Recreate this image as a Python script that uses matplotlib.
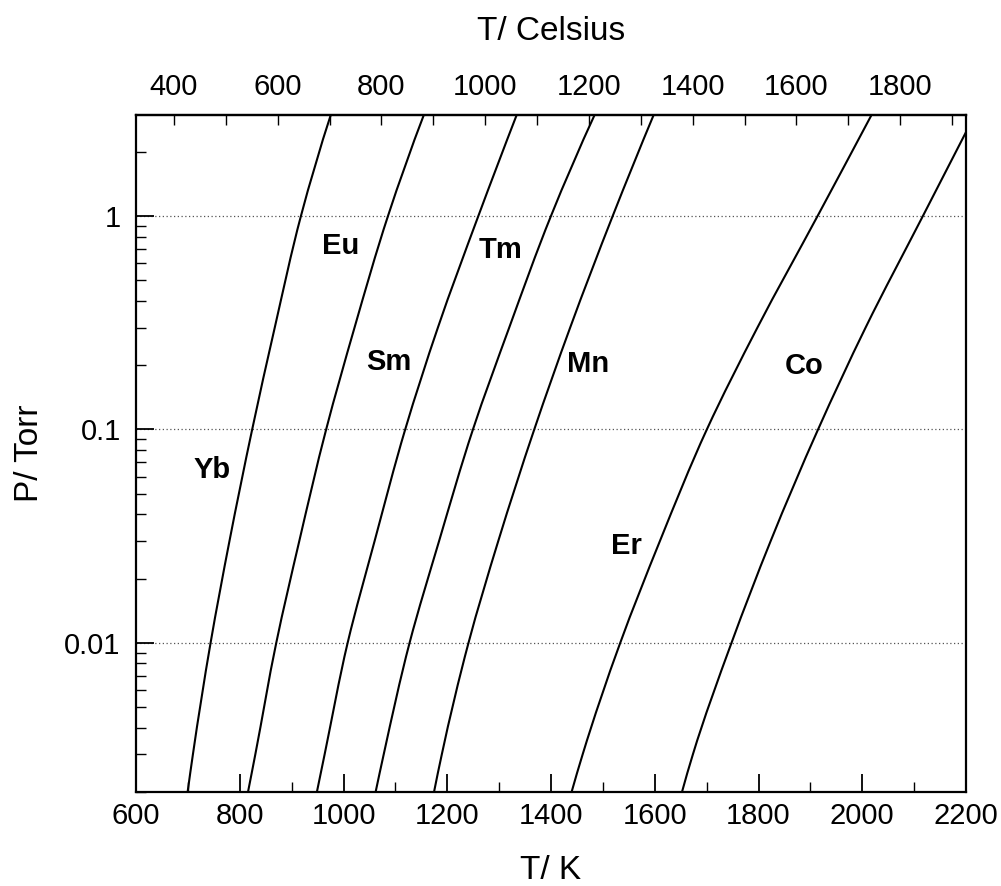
import matplotlib
matplotlib.use("Agg")
import matplotlib.pyplot as plt
from matplotlib.ticker import MultipleLocator, FixedLocator, FixedFormatter, NullFormatter, LogLocator
from matplotlib.path import Path
from matplotlib.patches import PathPatch
import numpy as np

plt.rcParams['font.family'] = ['Liberation Sans', 'DejaVu Sans']

# Pressure levels (Torr) at which temperatures were read
pressures = [0.002, 0.003, 0.01, 0.03, 0.1, 0.3, 1.0, 3.0]

# Temperatures (K) of each element at those pressures
T_Yb = [699.5, 709.7, 743.8, 780.2, 824.0, 867.5, 918.0, 976.0]
T_Eu = [815.9, 830.0, 870.4, 914.8, 966.6, 1021.3, 1085.8, 1155.5]
T_Sm = [948.7, 963.6, 1008.0, 1060.0, 1119.0, 1182.0, 1260.0, 1334.5]
T_Tm = [1061.9, 1077.5, 1127.4, 1184.3, 1249.6, 1319.5, 1400.0, 1484.8]
T_Mn = [1174.5, 1189.5, 1241.0, 1298.4, 1367.8, 1437.0, 1519.0, 1598.6]
T_Er = [1439.7, 1461.0, 1533.5, 1610.0, 1700.5, 1798.0, 1914.0, 2018.8]
# Co leaves the frame at the right edge
P_Co = [0.002, 0.003, 0.01, 0.03, 0.1, 0.3, 1.0, 2.47]
T_Co = [1652.5, 1673.5, 1748.0, 1823.5, 1914.9, 2006.5, 2117.0, 2200.0]

elements = ['Yb', 'Eu', 'Sm', 'Tm', 'Mn', 'Er', 'Co']
series = {
    'Yb': (T_Yb, pressures), 'Eu': (T_Eu, pressures), 'Sm': (T_Sm, pressures),
    'Tm': (T_Tm, pressures), 'Mn': (T_Mn, pressures), 'Er': (T_Er, pressures),
    'Co': (T_Co, P_Co),
}

xticks_K = [600, 800, 1000, 1200, 1400, 1600, 1800, 2000, 2200]
xticks_C = [400, 600, 800, 1000, 1200, 1400, 1600, 1800]
yticks = [0.01, 0.1, 1]
ytick_labels = ['0.01', '0.1', '1']

# label anchor positions (T in K, P in Torr)
label_pos = {
    'Yb': (746.5, 0.0646), 'Eu': (995.2, 0.7236), 'Sm': (1087.7, 0.207),
    'Tm': (1303.6, 0.693), 'Mn': (1471.3, 0.2026), 'Er': (1544.6, 0.02846),
    'Co': (1887.7, 0.198),
}


def smooth_curve(T, P):
    """Smooth line through the data points (cubic Bezier segments, drawn by matplotlib)."""
    T = np.asarray(T, float)
    y = np.log10(np.asarray(P, float))
    h = np.diff(y)
    d = np.diff(T) / h
    n = len(T)
    m = np.empty(n)
    m[0] = ((2 * h[0] + h[1]) * d[0] - h[0] * d[1]) / (h[0] + h[1])
    m[-1] = ((2 * h[-1] + h[-2]) * d[-1] - h[-1] * d[-2]) / (h[-1] + h[-2])
    for i in range(1, n - 1):
        m[i] = (h[i] * d[i - 1] + h[i - 1] * d[i]) / (h[i - 1] + h[i])
    verts = [(T[0], 10 ** y[0])]
    codes = [Path.MOVETO]
    for i in range(n - 1):
        verts.append((T[i] + m[i] * h[i] / 3, 10 ** (y[i] + h[i] / 3)))
        verts.append((T[i + 1] - m[i + 1] * h[i] / 3, 10 ** (y[i + 1] - h[i] / 3)))
        verts.append((T[i + 1], 10 ** y[i + 1]))
        codes += [Path.CURVE4] * 3
    return Path(verts, codes)


fig = plt.figure(figsize=(10.01, 8.86), dpi=100)
ax = fig.add_axes([136/1001, 1-792/886, (966-136)/1001, (792-115)/886])

ax.set_yscale('log')
ax.set_xlim(600, 2200)
ax.set_ylim(0.002, 2.97)

for el in elements:
    T, P = series[el]
    patch = PathPatch(smooth_curve(T, P), facecolor='none', edgecolor='black',
                      lw=1.5, transform=ax.transData, zorder=3)
    ax.add_patch(patch)

for y in yticks:
    ax.axhline(y, color='#555555', lw=0.9, ls=(0, (1, 2)), zorder=0)

ax.xaxis.set_major_locator(FixedLocator(xticks_K))
ax.xaxis.set_minor_locator(MultipleLocator(100))
ax.yaxis.set_major_locator(FixedLocator(yticks))
ax.yaxis.set_major_formatter(FixedFormatter(ytick_labels))
ax.yaxis.set_minor_locator(LogLocator(base=10, subs=np.arange(2, 10)))
ax.yaxis.set_minor_formatter(NullFormatter())

ax.tick_params(axis='x', which='both', direction='in', top=False, labelsize=21, pad=7)
ax.tick_params(axis='x', which='major', length=13, width=1.3)
ax.tick_params(axis='x', which='minor', length=7, width=1.0)
ax.tick_params(axis='y', which='both', direction='in', right=False, labelsize=21, pad=11)
ax.tick_params(axis='y', which='major', length=13, width=1.3)
ax.tick_params(axis='y', which='minor', length=7, width=1.0)

for s in ax.spines.values():
    s.set_linewidth(1.6)

ax.set_xlabel('T/ K', fontsize=24, labelpad=18)
ax.set_ylabel('P/ Torr', fontsize=24, labelpad=14)

sec = ax.secondary_xaxis('top', functions=(lambda k: k - 273.15, lambda c: c + 273.15))
sec.xaxis.set_major_locator(FixedLocator(xticks_C))
sec.xaxis.set_minor_locator(MultipleLocator(100))
sec.tick_params(axis='x', which='both', direction='in', labelsize=21, pad=10)
sec.tick_params(axis='x', which='major', length=7, width=1.0)
sec.tick_params(axis='x', which='minor', length=7, width=1.0)
sec.set_xlabel('T/ Celsius', fontsize=24, labelpad=24)
sec.spines['top'].set_linewidth(1.6)

for el in elements:
    x, y = label_pos[el]
    ax.text(x, y, el, fontsize=21, fontweight='bold', ha='center', va='center')

fig.savefig('out.png', dpi=100)
